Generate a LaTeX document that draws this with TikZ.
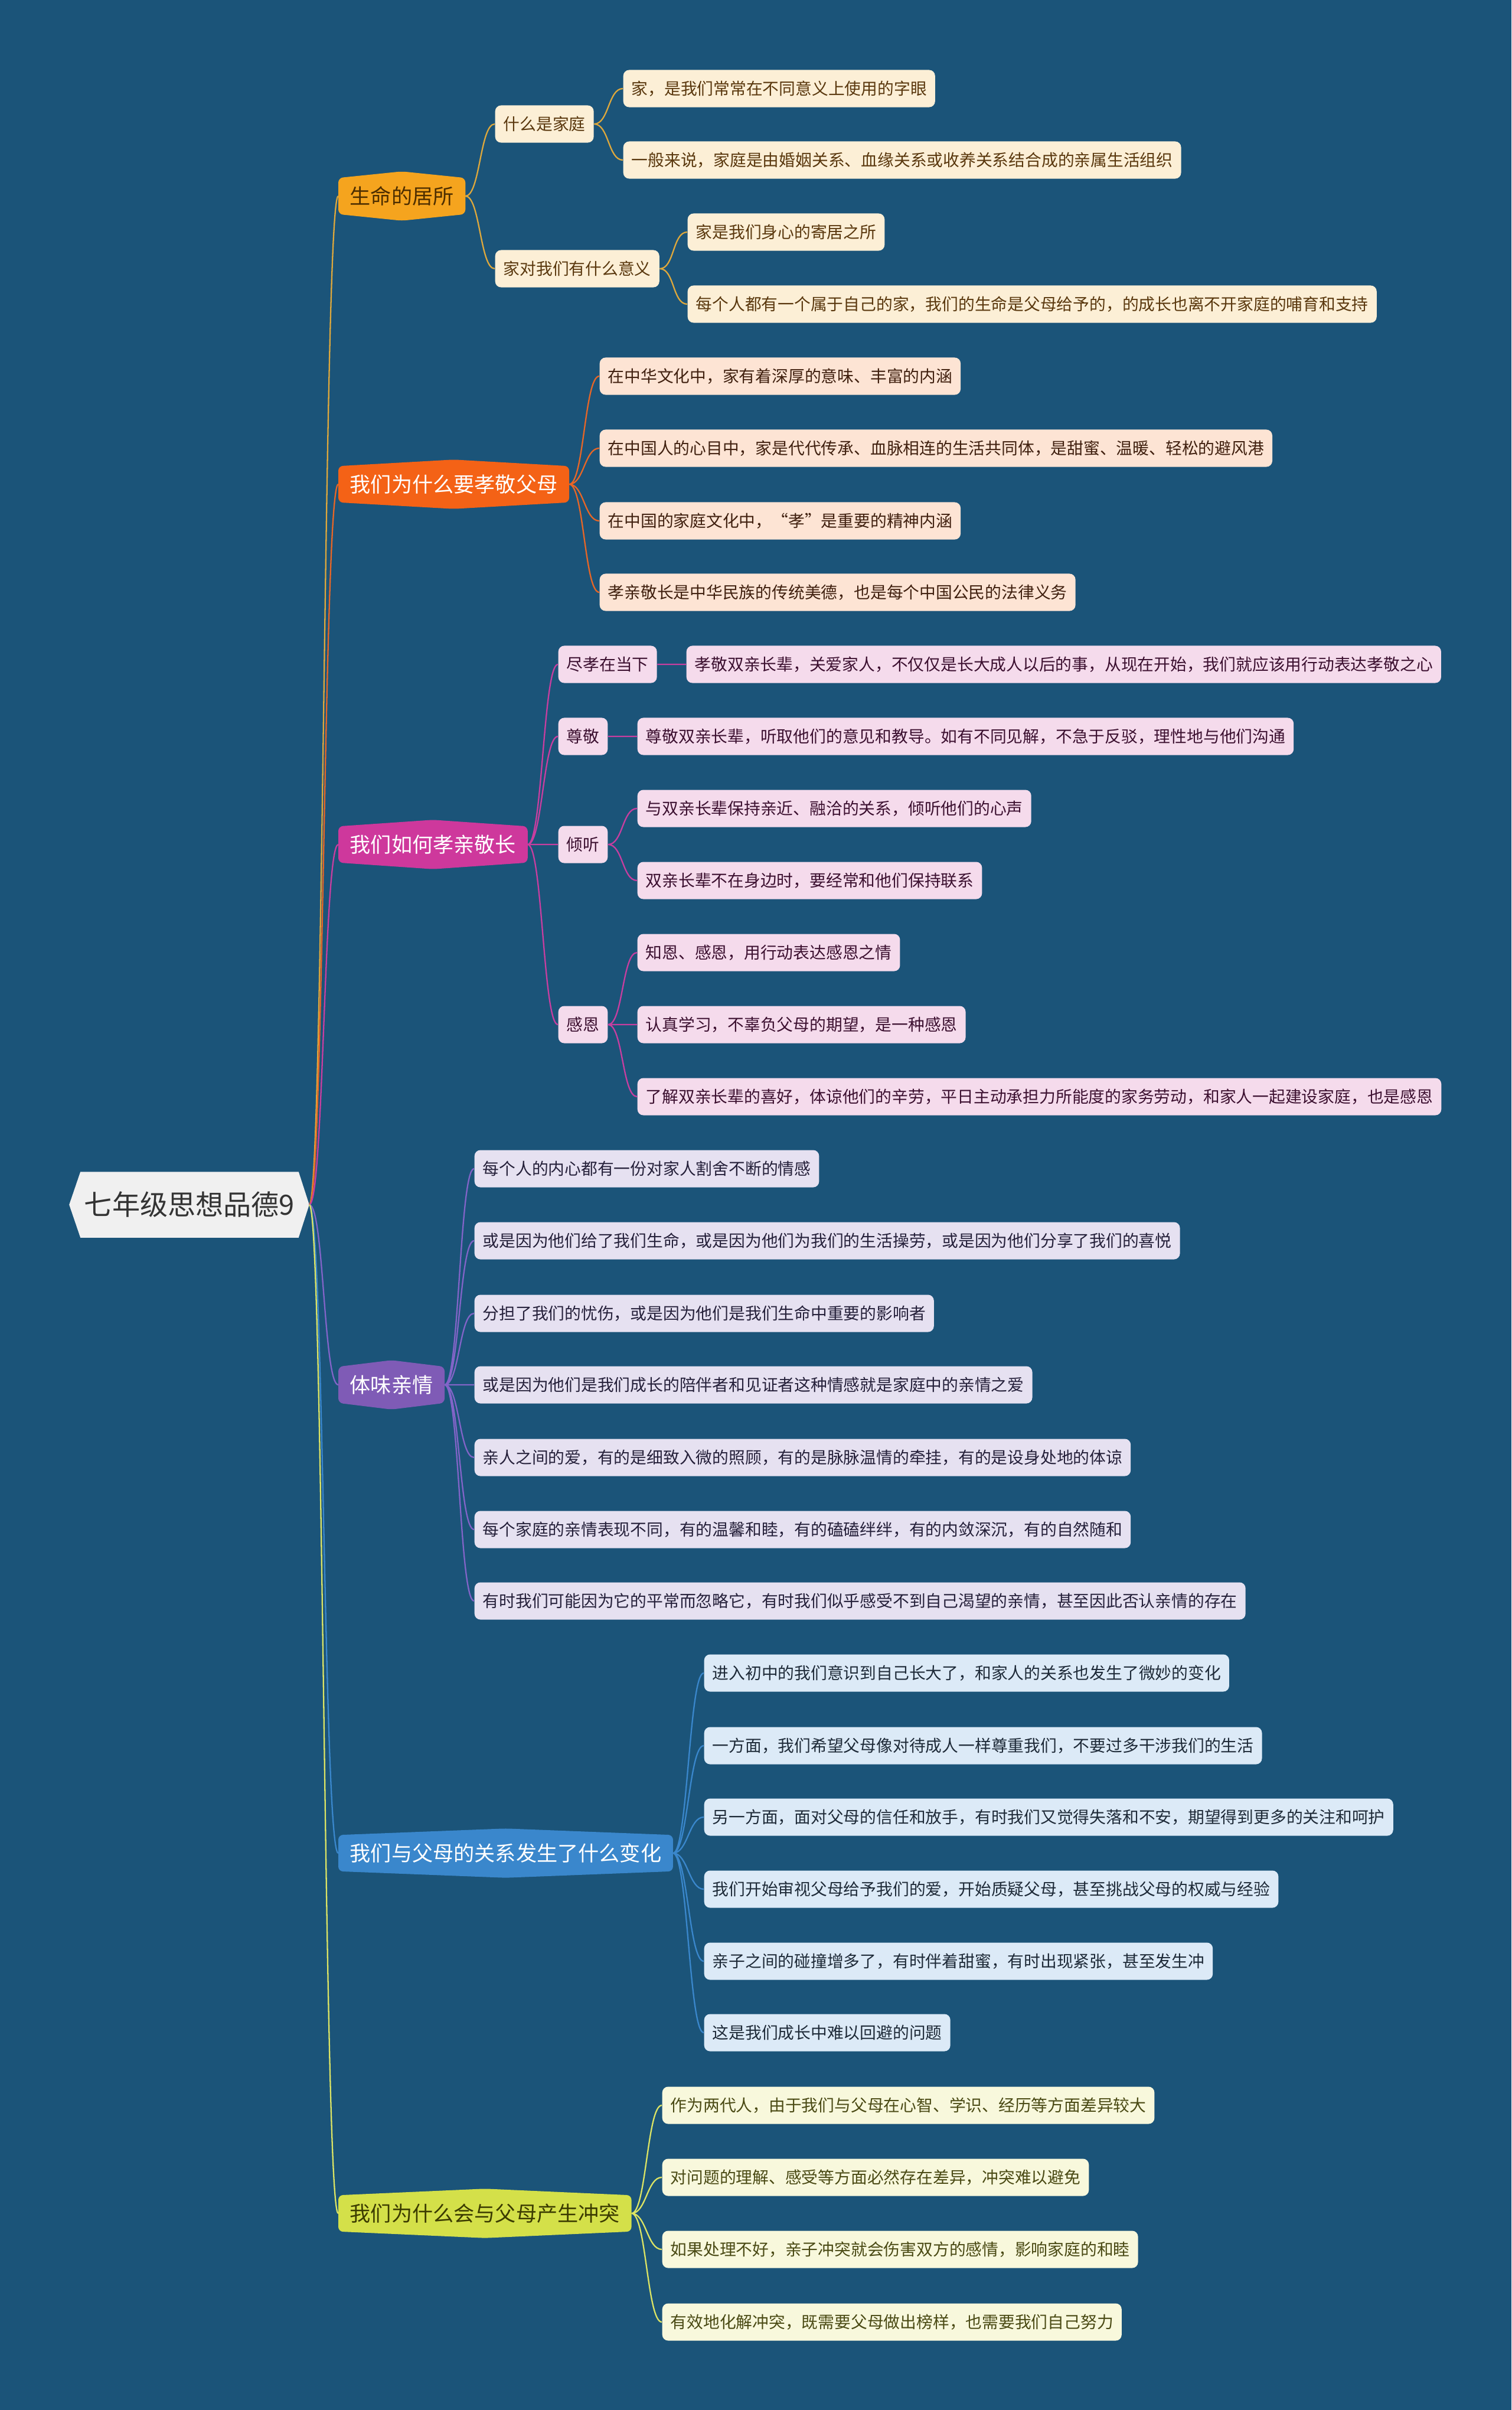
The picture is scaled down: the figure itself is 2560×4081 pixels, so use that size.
\documentclass[tikz,border=0pt]{standalone}
\usepackage{fontspec}
\setmainfont{Noto Sans CJK SC}
\usepackage{tikz}
\usetikzlibrary{backgrounds}
\definecolor{mapbg}{RGB}{27,84,121}
\definecolor{rootfill}{RGB}{240,240,240}
\definecolor{rootink}{RGB}{51,51,51}
\definecolor{topicA}{RGB}{245,164,30}
\definecolor{topicB}{RGB}{244,98,22}
\definecolor{topicC}{RGB}{206,56,156}
\definecolor{topicD}{RGB}{127,91,182}
\definecolor{topicE}{RGB}{58,135,204}
\definecolor{topicF}{RGB}{212,224,73}
\definecolor{lineA}{RGB}{222,168,60}
\definecolor{lineB}{RGB}{232,102,38}
\definecolor{lineC}{RGB}{200,62,160}
\definecolor{lineD}{RGB}{130,100,200}
\definecolor{lineE}{RGB}{58,135,204}
\definecolor{lineF}{RGB}{220,228,100}
\definecolor{leafA}{RGB}{252,239,214}
\definecolor{leafB}{RGB}{253,228,212}
\definecolor{leafC}{RGB}{245,219,236}
\definecolor{leafD}{RGB}{230,225,241}
\definecolor{leafE}{RGB}{220,234,247}
\definecolor{leafF}{RGB}{248,248,220}
\definecolor{inkA}{RGB}{90,56,14}
\definecolor{inkB}{RGB}{64,32,15}
\definecolor{inkC}{RGB}{60,16,48}
\definecolor{inkD}{RGB}{37,32,58}
\definecolor{inkE}{RGB}{30,42,56}
\definecolor{inkF}{RGB}{74,74,20}
\definecolor{topinkA}{RGB}{77,46,0}
\definecolor{topinkF}{RGB}{59,59,0}

% hexagon-like topic background: flat sides, shallow peaks on top and bottom
\newcommand{\topicbg}[2]{%
  \fill[#2, rounded corners=0.08cm] (#1.north west) -- ([yshift=0.11cm]#1.north) -- (#1.north east)
    -- (#1.south east) -- ([yshift=-0.11cm]#1.south) -- (#1.south west) -- cycle;}

\begin{document}
\begin{tikzpicture}[x=0.01cm,y=-0.01cm,
  rootnode/.style={minimum width=3.68cm, minimum height=1.1cm, inner sep=0pt, text=rootink,
    font=\fontsize{13.4pt}{16pt}\selectfont},
  topic/.style={anchor=west, minimum height=0.6cm, inner xsep=0.19cm, inner ysep=0pt,
    font=\fontsize{10pt}{12pt}\selectfont},
  card/.style={anchor=west, rounded corners=0.1cm, minimum height=0.63cm, inner xsep=0.14cm,
    inner ysep=0pt, font=\fontsize{7.9pt}{9.5pt}\selectfont},
  cardA/.style={card, fill=leafA, text=inkA},
  cardB/.style={card, fill=leafB, text=inkB},
  cardC/.style={card, fill=leafC, text=inkC},
  cardD/.style={card, fill=leafD, text=inkD},
  cardE/.style={card, fill=leafE, text=inkE},
  cardF/.style={card, fill=leafF, text=inkF},
  link/.style={line width=0.65pt, to path={.. controls +(25,0) and +(-25,0) .. (\tikztotarget)}}]
  \useasboundingbox (0,0) rectangle (2560,4081);

  % root
  \node[rootnode] (root) at (321,2040) {七年级思想品德9};
  \coordinate (rtip) at ([xshift=0.18cm]root.east);

  % branch 1
  \node[topic, text=topinkA] (b1) at (573,332) {生命的居所};
  \node[cardA] (b1s1) at (838,210) {什么是家庭};
  \node[cardA] (b1s2) at (838,455) {家对我们有什么意义};
  \node[cardA] (b1l1) at (1055,150) {家，是我们常常在不同意义上使用的字眼};
  \node[cardA] (b1l2) at (1055,271) {一般来说，家庭是由婚姻关系、血缘关系或收养关系结合成的亲属生活组织};
  \node[cardA] (b1l3) at (1164,393) {家是我们身心的寄居之所};
  \node[cardA] (b1l4) at (1164,515) {每个人都有一个属于自己的家，我们的生命是父母给予的，的成长也离不开家庭的哺育和支持};

  % branch 2
  \node[topic, text=white] (b2) at (573,820) {我们为什么要孝敬父母};
  \node[cardB] (b2l1) at (1015,637) {在中华文化中，家有着深厚的意味、丰富的内涵};
  \node[cardB] (b2l2) at (1015,759) {在中国人的心目中，家是代代传承、血脉相连的生活共同体，是甜蜜、温暖、轻松的避风港};
  \node[cardB] (b2l3) at (1015,882) {在中国的家庭文化中，“孝”是重要的精神内涵};
  \node[cardB] (b2l4) at (1015,1003) {孝亲敬长是中华民族的传统美德，也是每个中国公民的法律义务};

  % branch 3
  \node[topic, text=white] (b3) at (573,1430) {我们如何孝亲敬长};
  \node[cardC] (b3s1) at (945,1125) {尽孝在当下};
  \node[cardC] (b3s2) at (945,1247) {尊敬};
  \node[cardC] (b3s3) at (945,1430) {倾听};
  \node[cardC] (b3s4) at (945,1735) {感恩};
  \node[cardC] (b3l1) at (1162,1125) {孝敬双亲长辈，关爱家人，不仅仅是长大成人以后的事，从现在开始，我们就应该用行动表达孝敬之心};
  \node[cardC] (b3l2) at (1079,1247) {尊敬双亲长辈，听取他们的意见和教导。如有不同见解，不急于反驳，理性地与他们沟通};
  \node[cardC] (b3l3) at (1079,1369) {与双亲长辈保持亲近、融洽的关系，倾听他们的心声};
  \node[cardC] (b3l4) at (1079,1491) {双亲长辈不在身边时，要经常和他们保持联系};
  \node[cardC] (b3l5) at (1079,1613) {知恩、感恩，用行动表达感恩之情};
  \node[cardC] (b3l6) at (1079,1735) {认真学习，不辜负父母的期望，是一种感恩};
  \node[cardC] (b3l7) at (1079,1857) {了解双亲长辈的喜好，体谅他们的辛劳，平日主动承担力所能度的家务劳动，和家人一起建设家庭，也是感恩};

  % branch 4
  \node[topic, text=white] (b4) at (573,2345) {体味亲情};
  \node[cardD] (b4l1) at (803,1979) {每个人的内心都有一份对家人割舍不断的情感};
  \node[cardD] (b4l2) at (803,2101) {或是因为他们给了我们生命，或是因为他们为我们的生活操劳，或是因为他们分享了我们的喜悦};
  \node[cardD] (b4l3) at (803,2224) {分担了我们的忧伤，或是因为他们是我们生命中重要的影响者};
  \node[cardD] (b4l4) at (803,2345) {或是因为他们是我们成长的陪伴者和见证者这种情感就是家庭中的亲情之爱};
  \node[cardD] (b4l5) at (803,2468) {亲人之间的爱，有的是细致入微的照顾，有的是脉脉温情的牵挂，有的是设身处地的体谅};
  \node[cardD] (b4l6) at (803,2590) {每个家庭的亲情表现不同，有的温馨和睦，有的磕磕绊绊，有的内敛深沉，有的自然随和};
  \node[cardD] (b4l7) at (803,2711) {有时我们可能因为它的平常而忽略它，有时我们似乎感受不到自己渴望的亲情，甚至因此否认亲情的存在};

  % branch 5
  \node[topic, text=white] (b5) at (573,3138) {我们与父母的关系发生了什么变化};
  \node[cardE] (b5l1) at (1192,2833) {进入初中的我们意识到自己长大了，和家人的关系也发生了微妙的变化};
  \node[cardE] (b5l2) at (1192,2956) {一方面，我们希望父母像对待成人一样尊重我们，不要过多干涉我们的生活};
  \node[cardE] (b5l3) at (1192,3077) {另一方面，面对父母的信任和放手，有时我们又觉得失落和不安，期望得到更多的关注和呵护};
  \node[cardE] (b5l4) at (1192,3199) {我们开始审视父母给予我们的爱，开始质疑父母，甚至挑战父母的权威与经验};
  \node[cardE] (b5l5) at (1192,3321) {亲子之间的碰撞增多了，有时伴着甜蜜，有时出现紧张，甚至发生冲};
  \node[cardE] (b5l6) at (1192,3442) {这是我们成长中难以回避的问题};

  % branch 6
  \node[topic, text=topinkF] (b6) at (573,3748) {我们为什么会与父母产生冲突};
  \node[cardF] (b6l1) at (1121,3565) {作为两代人，由于我们与父母在心智、学识、经历等方面差异较大};
  \node[cardF] (b6l2) at (1121,3687) {对问题的理解、感受等方面必然存在差异，冲突难以避免};
  \node[cardF] (b6l3) at (1121,3809) {如果处理不好，亲子冲突就会伤害双方的感情，影响家庭的和睦};
  \node[cardF] (b6l4) at (1121,3932) {有效地化解冲突，既需要父母做出榜样，也需要我们自己努力};

  % connectors
  \draw[link, draw=lineA] (rtip) to (b1.west) (b1.east) to (b1s1.west) (b1.east) to (b1s2.west)
    (b1s1.east) to (b1l1.west) (b1s1.east) to (b1l2.west)
    (b1s2.east) to (b1l3.west) (b1s2.east) to (b1l4.west);
  \draw[link, draw=lineB] (rtip) to (b2.west) (b2.east) to (b2l1.west) (b2.east) to (b2l2.west)
    (b2.east) to (b2l3.west) (b2.east) to (b2l4.west);
  \draw[link, draw=lineC] (rtip) to (b3.west) (b3.east) to (b3s1.west) (b3.east) to (b3s2.west)
    (b3.east) to (b3s3.west) (b3.east) to (b3s4.west)
    (b3s1.east) to (b3l1.west) (b3s2.east) to (b3l2.west)
    (b3s3.east) to (b3l3.west) (b3s3.east) to (b3l4.west)
    (b3s4.east) to (b3l5.west) (b3s4.east) to (b3l6.west) (b3s4.east) to (b3l7.west);
  \draw[link, draw=lineD] (rtip) to (b4.west) (b4.east) to (b4l1.west) (b4.east) to (b4l2.west)
    (b4.east) to (b4l3.west) (b4.east) to (b4l4.west) (b4.east) to (b4l5.west)
    (b4.east) to (b4l6.west) (b4.east) to (b4l7.west);
  \draw[link, draw=lineE] (rtip) to (b5.west) (b5.east) to (b5l1.west) (b5.east) to (b5l2.west)
    (b5.east) to (b5l3.west) (b5.east) to (b5l4.west) (b5.east) to (b5l5.west)
    (b5.east) to (b5l6.west);
  \draw[link, draw=lineF] (rtip) to (b6.west) (b6.east) to (b6l1.west) (b6.east) to (b6l2.west)
    (b6.east) to (b6l3.west) (b6.east) to (b6l4.west);

  % backdrop and topic shapes
  \begin{scope}[on background layer]
    \fill[mapbg] (0,0) rectangle (2560,4081);
    \fill[rootfill] ([xshift=-0.19cm]root.west) -- (root.north west) -- (root.north east)
      -- (rtip) -- (root.south east) -- (root.south west) -- cycle;
    \topicbg{b1}{topicA}
    \topicbg{b2}{topicB}
    \topicbg{b3}{topicC}
    \topicbg{b4}{topicD}
    \topicbg{b5}{topicE}
    \topicbg{b6}{topicF}
  \end{scope}
\end{tikzpicture}
\end{document}
